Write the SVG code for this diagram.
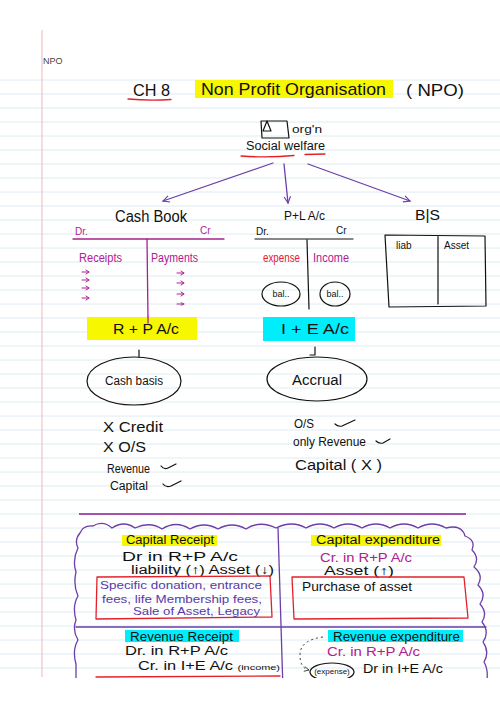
<svg xmlns="http://www.w3.org/2000/svg" width="500" height="707" viewBox="0 0 500 707">
<defs>
<style>
.t{font-family:"Liberation Sans",Arial,sans-serif;fill:#111}
.m{font-family:"Liberation Sans",Arial,sans-serif;fill:#b0208f}
.p{font-family:"Liberation Sans",Arial,sans-serif;fill:#5a3aa8}
.r{font-family:"Liberation Sans",Arial,sans-serif;fill:#e3202a}
.k{fill:none;stroke:#111;stroke-width:1.2;stroke-linecap:round;stroke-linejoin:round}
.mg{fill:none;stroke:#a8208c;stroke-width:1.3;stroke-linecap:round}
.ma{fill:none;stroke:#b0208f;stroke-width:1;stroke-linecap:round}
.rl{fill:none;stroke:#e3202a;stroke-width:1.3;stroke-linecap:round;stroke-linejoin:round}
.pu{fill:none;stroke:#6a3fa8;stroke-width:1.3;stroke-linecap:round;stroke-linejoin:round}
.rule{stroke:#dcecf2;stroke-width:1}
</style>
<marker id="ah" viewBox="0 0 10 10" refX="9" refY="5" markerWidth="8" markerHeight="8" orient="auto" markerUnits="userSpaceOnUse">
<path d="M1,1 L9,5 L1,9" fill="none" stroke="#6a3fa8" stroke-width="1.4"/>
</marker>
<marker id="ahm" viewBox="0 0 10 10" refX="9" refY="5" markerWidth="4" markerHeight="4" orient="auto" markerUnits="userSpaceOnUse">
<path d="M1,1 L9,5 L1,9" fill="none" stroke="#b0208f" stroke-width="2"/>
</marker>
<marker id="ahk" viewBox="0 0 10 10" refX="9" refY="5" markerWidth="6" markerHeight="6" orient="auto" markerUnits="userSpaceOnUse">
<path d="M1,1 L9,5 L1,9" fill="none" stroke="#333" stroke-width="1.4"/>
</marker>
<clipPath id="pg"><rect x="0" y="0" width="500" height="678"/></clipPath>
</defs>
<rect x="0" y="0" width="500" height="707" fill="#fff"/>
<g id="paper">
<path class="rule" d="M0,80H500M0,94H500M0,108H500M0,122H500M0,136H500M0,150H500M0,164H500M0,178H500M0,192H500M0,206H500M0,220H500M0,234H500M0,248H500M0,262H500M0,276H500M0,290H500M0,304H500M0,318H500M0,332H500M0,346H500M0,360H500M0,374H500M0,388H500M0,402H500M0,416H500M0,430H500M0,444H500M0,458H500M0,472H500M0,486H500M0,500H500M0,514H500M0,528H500M0,542H500M0,556H500M0,570H500M0,584H500M0,598H500M0,612H500M0,626H500M0,640H500M0,654H500M0,668H500"/>
<line x1="42" y1="30" x2="42" y2="677" stroke="#f0b6ba" stroke-width="1"/>
<text x="43" y="64" font-family="Liberation Sans,Arial,sans-serif" font-size="9" fill="#444">NPO</text>
</g>
<g id="title">
<text class="t" x="133" y="96" font-size="16" textLength="37" lengthAdjust="spacingAndGlyphs">CH 8</text>
<path class="rl" d="M128,99 Q150,101 171,99.5"/>
<rect x="195" y="80" width="198" height="18" fill="#f7f700"/>
<text class="t" x="201" y="95" font-size="17" textLength="185" lengthAdjust="spacingAndGlyphs">Non Profit Organisation</text>
<text class="t" x="406" y="96" font-size="17" textLength="58" lengthAdjust="spacingAndGlyphs">( NPO)</text>
</g>
<g id="origin">
<path class="k" d="M261,121 L287,121 L289,138 L262,138 Z"/>
<path class="k" d="M263,131 L267,121 L271,131 Z"/>
<text class="t" x="292" y="133" font-size="11" textLength="30" lengthAdjust="spacingAndGlyphs">org'n</text>
<text class="t" x="246" y="150" font-size="12" textLength="79" lengthAdjust="spacingAndGlyphs">Social welfare</text>
<path class="rl" d="M241,156 Q268,158 294,155.5"/>
<path class="rl" d="M305,154.5 L325,154"/>
</g>
<g id="connectors">
<path class="pu" d="M273,163 L163,201" marker-end="url(#ah)"/>
<path class="pu" d="M284,164 L288,203" marker-end="url(#ah)"/>
<path class="pu" d="M308,164 L410,201" marker-end="url(#ah)"/>
<path class="mg" d="M147,239 L148,318"/>
<path class="k" d="M139,350 L139,357"/>
<path class="k" d="M315,347 L315,355 L310,355"/>
<path d="M323,637 Q300,640 300,655 Q300,668 309,670" fill="none" stroke="#333" stroke-width="1" stroke-dasharray="2,3" marker-end="url(#ahk)"/>
</g>
<g id="cashbook">
<text class="t" x="115" y="222" font-size="16" textLength="72" lengthAdjust="spacingAndGlyphs">Cash Book</text>
<text class="m" x="75" y="235" font-size="10">Dr.</text>
<text class="m" x="200" y="234" font-size="10">Cr</text>
<path class="mg" d="M73,239 L224,239"/>
<text class="m" x="79" y="262" font-size="12" textLength="43" lengthAdjust="spacingAndGlyphs">Receipts</text>
<text class="m" x="151" y="262" font-size="12" textLength="47" lengthAdjust="spacingAndGlyphs">Payments</text>
<path class="ma" d="M82,272 L89,272 M82,280 L89,280 M82,288 L89,288 M82,298 L89,298 M177,273 L184,273 M177,283 L184,283 M177,294 L184,294 M177,304 L184,304" marker-end="url(#ahm)"/>
<path class="ma" d="M86,270 L89,272 L86,274 M86,278 L89,280 L86,282 M86,286 L89,288 L86,290 M86,296 L89,298 L86,300 M181,271 L184,273 L181,275 M181,281 L184,283 L181,285 M181,292 L184,294 L181,296"/>
</g>
<g id="pl">
<text class="t" x="284" y="220" font-size="13" textLength="41" lengthAdjust="spacingAndGlyphs">P+L A/c</text>
<text class="t" x="256" y="235" font-size="10">Dr.</text>
<text class="t" x="336" y="234" font-size="10">Cr</text>
<path class="k" d="M255,239 L353,239 M307,240 L309,309"/>
<text class="r" x="263" y="262" font-size="12" textLength="37" lengthAdjust="spacingAndGlyphs">expense</text>
<text class="m" x="313" y="262" font-size="12" textLength="36" lengthAdjust="spacingAndGlyphs">Income</text>
<ellipse class="k" cx="281" cy="294" rx="19" ry="12"/>
<text class="t" x="281" y="297" font-size="9" text-anchor="middle">bal..</text>
<ellipse class="k" cx="335" cy="294" rx="15" ry="12"/>
<text class="t" x="335" y="297" font-size="9" text-anchor="middle">bal..</text>
</g>
<g id="bs">
<text class="t" x="415" y="220" font-size="14" textLength="25" lengthAdjust="spacingAndGlyphs">B|S</text>
<path class="k" d="M385,235 L485,236 L486,306 L389,307 Z M438,236 L438,304"/>
<text class="t" x="396" y="249" font-size="10">liab</text>
<text class="t" x="444" y="249" font-size="10">Asset</text>
</g>
<g id="rp">
<rect x="87" y="317" width="110" height="23" fill="#f7f700"/>
<path class="mg" d="M148,317 L148,323"/>
<text class="t" x="113" y="334" font-size="14" textLength="66" lengthAdjust="spacingAndGlyphs">R + P A/c</text>
</g>
<g id="ie">
<rect x="263" y="317" width="92" height="24" fill="#00eefc"/>
<text class="t" x="281" y="334" font-size="14" textLength="68" lengthAdjust="spacingAndGlyphs">I + E A/c</text>
</g>
<g id="cashbasis">
<ellipse class="k" cx="134" cy="381" rx="47" ry="24"/>
<text class="t" x="134" y="385" font-size="12" text-anchor="middle" textLength="58" lengthAdjust="spacingAndGlyphs">Cash basis</text>
<text class="t" x="103" y="432" font-size="14" textLength="60" lengthAdjust="spacingAndGlyphs">X  Credit</text>
<text class="t" x="103" y="452" font-size="14" textLength="43" lengthAdjust="spacingAndGlyphs">X  O/S</text>
<text class="t" x="107" y="473" font-size="12" textLength="43" lengthAdjust="spacingAndGlyphs">Revenue</text>
<path class="k" d="M161,466 Q164,470 168,468 L176,464"/>
<text class="t" x="110" y="490" font-size="12" textLength="38" lengthAdjust="spacingAndGlyphs">Capital</text>
<path class="k" d="M163,484 Q166,488 171,486 L181,481"/>
</g>
<g id="accrual">
<ellipse class="k" cx="317" cy="379" rx="50" ry="22"/>
<text class="t" x="317" y="385" font-size="14" text-anchor="middle" textLength="50" lengthAdjust="spacingAndGlyphs">Accrual</text>
<text class="t" x="294" y="428" font-size="12" textLength="20" lengthAdjust="spacingAndGlyphs">O/S</text>
<path class="k" d="M335,424 Q338,427 342,426 L355,420"/>
<text class="t" x="293" y="446" font-size="13" textLength="73" lengthAdjust="spacingAndGlyphs">only Revenue</text>
<path class="k" d="M376,441 Q379,444 383,443 L390,439"/>
<text class="t" x="295" y="470" font-size="14" textLength="87" lengthAdjust="spacingAndGlyphs">Capital  ( X )</text>
</g>
<g id="lower" clip-path="url(#pg)">
<path d="M79,514 L466,514" fill="none" stroke="#8b1a9a" stroke-width="1.4"/>
<path class="pu" d="M76,690 L76,664 Q72,650 78,640 Q72,630 76,620 Q72,606 78,596 Q73,585 76,572 Q72,560 78,548 Q74,540 80,533 Q83,525 93,526 Q103,520 112,528 Q124,520 135,528 Q150,521 162,529 Q176,520 190,529 Q204,521 218,529 Q232,521 246,529 Q260,520 276,528 Q292,520 306,528 Q320,520 334,528 Q348,520 362,528 Q376,520 390,528 Q404,520 418,528 Q432,520 446,528 Q462,524 465,536 Q476,540 472,550 Q480,558 474,567 Q484,575 478,585 Q487,594 480,604 Q488,613 482,622 Q490,632 483,642 Q490,652 484,662 Q490,672 485,690"/>
<path class="pu" d="M278,528 L283,690"/>
<path class="pu" d="M76,627 L486,627"/>
<rect x="122" y="535" width="95" height="11" fill="#f7f700"/>
<text class="t" x="126" y="544" font-size="12" textLength="88" lengthAdjust="spacingAndGlyphs">Capital Receipt</text>
<text class="t" x="122" y="561" font-size="12" textLength="116" lengthAdjust="spacingAndGlyphs">Dr   in   R+P  A/c</text>
<text class="t" x="131" y="574" font-size="12" textLength="143" lengthAdjust="spacingAndGlyphs">liability (↑)  Asset (↓)</text>
<path class="rl" d="M97,577 L270,576 L272,617 L96,619 Z"/>
<text class="p" x="100" y="589" font-size="11" textLength="162" lengthAdjust="spacingAndGlyphs">Specific donation, entrance</text>
<text class="p" x="102" y="603" font-size="11" textLength="160" lengthAdjust="spacingAndGlyphs">fees, life Membership fees,</text>
<text class="p" x="133" y="615" font-size="11" textLength="127" lengthAdjust="spacingAndGlyphs">Sale of Asset, Legacy</text>
<rect x="311" y="535" width="130" height="11" fill="#f7f700"/>
<text class="t" x="316" y="544" font-size="12" textLength="124" lengthAdjust="spacingAndGlyphs">Capital expenditure</text>
<text class="m" x="320" y="562" font-size="12" textLength="92" lengthAdjust="spacingAndGlyphs">Cr. in R+P A/c</text>
<text class="t" x="324" y="575" font-size="12" textLength="70" lengthAdjust="spacingAndGlyphs">Asset (↑)</text>
<path class="rl" d="M292,577 L464,577 L468,618 L294,619 Z"/>
<text class="t" x="302" y="591" font-size="13" textLength="110" lengthAdjust="spacingAndGlyphs">Purchase of asset</text>
<rect x="125" y="630" width="114" height="12" fill="#00eefc"/>
<text class="t" x="130" y="641" font-size="12" textLength="103" lengthAdjust="spacingAndGlyphs">Revenue Receipt</text>
<text class="t" x="125" y="655" font-size="12" textLength="103" lengthAdjust="spacingAndGlyphs">Dr.  in  R+P A/c</text>
<text class="t" x="138" y="670" font-size="12" textLength="142" lengthAdjust="spacingAndGlyphs">Cr.   in  I+E A/c <tspan font-size="8">(income)</tspan></text>
<path class="rl" d="M96,677 L280,676"/>
<rect x="328" y="630" width="135" height="12" fill="#00eefc"/>
<text class="t" x="333" y="641" font-size="12" textLength="127" lengthAdjust="spacingAndGlyphs">Revenue expenditure</text>
<text class="m" x="327" y="656" font-size="12" textLength="93" lengthAdjust="spacingAndGlyphs">Cr.  in  R+P A/c</text>
<ellipse class="k" cx="332" cy="672" rx="22" ry="9"/>
<text class="t" x="332" y="674" font-size="8" text-anchor="middle">(expense)</text>
<text class="t" x="363" y="673" font-size="12" textLength="80" lengthAdjust="spacingAndGlyphs">Dr in I+E A/c</text>
</g>
</svg>
